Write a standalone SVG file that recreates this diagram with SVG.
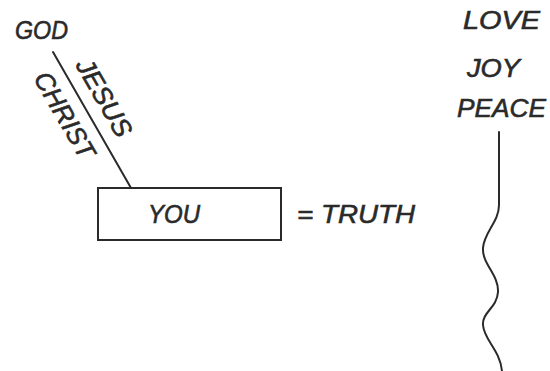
<svg xmlns="http://www.w3.org/2000/svg" width="550" height="371" viewBox="0 0 550 371">
<style>
text{font-family:"Liberation Sans",Arial,sans-serif;font-style:italic;font-size:26px;fill:#2a2a2a;stroke:#2a2a2a;stroke-width:0.6}
.ln{fill:none;stroke:#2a2a2a;stroke-width:2;stroke-linecap:round}
</style>
<rect width="550" height="371" fill="#fff"/>
<g id="god"><text x="15" y="39" textLength="53" lengthAdjust="spacingAndGlyphs">GOD</text></g>
<g id="you"><rect class="ln" x="98" y="188" width="183" height="52"/><text x="148" y="223" textLength="52" lengthAdjust="spacingAndGlyphs">YOU</text></g>
<g id="truth"><text x="297" y="223" textLength="118" lengthAdjust="spacingAndGlyphs">= TRUTH</text></g>
<g id="love"><text x="463" y="29" textLength="77" lengthAdjust="spacingAndGlyphs">LOVE</text></g>
<g id="joy"><text x="467" y="77" textLength="53" lengthAdjust="spacingAndGlyphs">JOY</text></g>
<g id="peace"><text x="457" y="117" textLength="89" lengthAdjust="spacingAndGlyphs">PEACE</text></g>
<g id="connectors">
<line class="ln" x1="53" y1="52" x2="131" y2="188"/>
<text transform="translate(75,65) rotate(60)" textLength="86" lengthAdjust="spacingAndGlyphs">JESUS</text>
<text transform="translate(33,78) rotate(60)" textLength="96" lengthAdjust="spacingAndGlyphs">CHRIST</text>
<path class="ln" d="M499,132 L499,205 C499,222 484,232 483,248 C482,264 499,275 498,292 C497,308 482,312 483,325 C484,340 500,350 502,371"/>
</g>
</svg>
